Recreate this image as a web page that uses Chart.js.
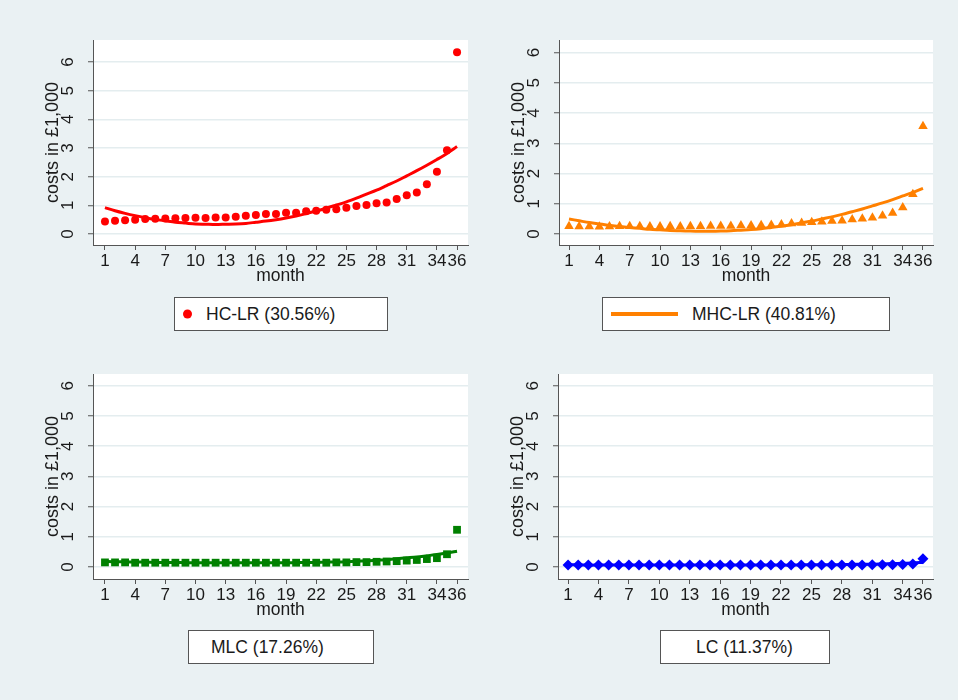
<!DOCTYPE html>
<html>
<head>
<meta charset="utf-8">
<script src="https://cdn.jsdelivr.net/npm/chart.js@4.4.0/dist/chart.umd.min.js"></script>
<style>
html,body{margin:0;padding:0;background:#eaf1f3;width:958px;height:700px;overflow:hidden;font-family:"Liberation Sans",Arial,sans-serif;}
#page{position:relative;width:958px;height:700px;}
canvas{position:absolute;}
.leg{position:absolute;box-sizing:border-box;border:1px solid #555;background:#fff;height:34px;}
.leg .t{position:absolute;top:50%;transform:translateY(-50%);font-size:17.5px;color:#1a1a1a;white-space:nowrap;}
.leg .dot{position:absolute;width:9px;height:9px;border-radius:50%;top:50%;transform:translateY(-50%);}
.leg .ln{position:absolute;height:4px;top:50%;transform:translateY(-50%);}
</style>
</head>
<body>
<div id="page">
  <canvas id="c1"></canvas>
  <canvas id="c2"></canvas>
  <canvas id="c3"></canvas>
  <canvas id="c4"></canvas>
  <div class="leg" id="l1" style="left:174px;top:297px;width:214px;"><span class="dot" style="left:8px;background:#ff0000;"></span><span class="t" style="left:31px;"></span></div>
  <div class="leg" id="l2" style="left:602px;top:297px;width:288px;"><span class="ln" style="left:8px;width:67px;background:#ff8000;"></span><span class="t" style="left:89px;"></span></div>
  <div class="leg" id="l3" style="left:188px;top:630px;width:186px;"><span class="t" style="left:22px;"></span></div>
  <div class="leg" id="l4" style="left:660px;top:630px;width:170px;"><span class="t" style="left:35px;"></span></div>
</div>
<script>
// ---- data ----
const months = [1,2,3,4,5,6,7,8,9,10,11,12,13,14,15,16,17,18,19,20,21,22,23,24,25,26,27,28,29,30,31,32,33,34,35,36];
const xTickValues = [1,4,7,10,13,16,19,22,25,28,31,34,36];
const yTickValues = [0,1,2,3,4,5,6];

const hcObs = [0.44,0.46,0.48,0.50,0.52,0.53,0.54,0.55,0.56,0.57,0.56,0.58,0.58,0.60,0.64,0.66,0.70,0.70,0.74,0.74,0.79,0.81,0.85,0.86,0.92,0.98,1.01,1.07,1.10,1.22,1.35,1.45,1.74,2.17,2.92,6.34];
const hcFit = [0.92,0.81,0.72,0.64,0.57,0.51,0.46,0.41,0.38,0.35,0.34,0.33,0.34,0.35,0.37,0.41,0.45,0.50,0.56,0.63,0.71,0.80,0.90,1.01,1.12,1.25,1.39,1.53,1.69,1.85,2.03,2.21,2.40,2.60,2.81,3.05];

const mhcObs = [0.26,0.25,0.25,0.24,0.25,0.26,0.26,0.26,0.25,0.25,0.26,0.25,0.26,0.26,0.27,0.27,0.27,0.28,0.28,0.29,0.30,0.32,0.35,0.37,0.39,0.41,0.43,0.44,0.48,0.51,0.54,0.61,0.70,0.88,1.32,3.56];
const mhcFit = [0.50,0.44,0.38,0.33,0.29,0.25,0.22,0.19,0.16,0.14,0.12,0.11,0.10,0.095,0.095,0.10,0.11,0.13,0.15,0.18,0.22,0.26,0.31,0.37,0.43,0.50,0.57,0.65,0.74,0.83,0.93,1.03,1.14,1.26,1.38,1.51];

const mlcObs = [0.15,0.15,0.15,0.14,0.14,0.14,0.14,0.14,0.14,0.14,0.14,0.14,0.14,0.14,0.14,0.14,0.14,0.14,0.14,0.14,0.14,0.14,0.14,0.15,0.15,0.16,0.16,0.17,0.18,0.19,0.21,0.23,0.26,0.29,0.42,1.23];
const mlcFit = [0.18,0.17,0.17,0.16,0.16,0.15,0.15,0.15,0.14,0.14,0.14,0.14,0.14,0.14,0.14,0.14,0.14,0.14,0.14,0.14,0.15,0.15,0.16,0.16,0.17,0.19,0.20,0.22,0.24,0.27,0.30,0.33,0.37,0.41,0.46,0.52];

const lcObs = [0.06,0.06,0.06,0.06,0.06,0.06,0.06,0.06,0.06,0.06,0.06,0.06,0.06,0.06,0.06,0.06,0.06,0.06,0.06,0.06,0.06,0.06,0.06,0.06,0.06,0.06,0.06,0.06,0.06,0.06,0.07,0.07,0.07,0.08,0.10,0.27];
const lcFit = [0.07,0.07,0.06,0.06,0.06,0.06,0.06,0.06,0.06,0.06,0.06,0.06,0.06,0.06,0.06,0.06,0.06,0.06,0.06,0.06,0.06,0.06,0.06,0.07,0.07,0.07,0.07,0.08,0.08,0.09,0.09,0.10,0.11,0.12,0.13,0.15];

const legendLabels = ['HC-LR (30.56%)','MHC-LR (40.81%)','MLC (17.26%)','LC (11.37%)'];
const yTitle = 'costs in £1,000';
const xTitle = 'month';

// ---- rendering ----
const FONT = '"Liberation Sans", Arial, sans-serif';
const TXT = '#1a1a1a';
const AX = '#555555';
const GRID = '#e4edef';

const plotBg = {
  id: 'plotBg',
  beforeDraw(chart) {
    const {ctx, chartArea: a} = chart;
    ctx.save();
    ctx.fillStyle = '#ffffff';
    ctx.fillRect(a.left, a.top, a.right - a.left, a.bottom - a.top);
    ctx.restore();
  }
};

function panel(id, area, obs, fit, color, style, radius, yMin, yMax, xMin, xMax) {
  const padTop = 10, padRight = 10, yW = 53, xH = 45;
  const cv = document.getElementById(id);
  const w = (area.R - area.L) + yW + padRight;
  const h = (area.B - area.T) + padTop + xH;
  cv.width = w; cv.height = h;
  cv.style.left = (area.L - yW) + 'px';
  cv.style.top = (area.T - padTop) + 'px';
  cv.style.width = w + 'px'; cv.style.height = h + 'px';
  new Chart(cv, {
    type: 'scatter',
    plugins: [plotBg],
    data: {
      datasets: [
        { data: months.map((m, i) => ({x: m, y: fit[i]})), showLine: true, borderColor: color,
          borderWidth: 3, pointRadius: 0, tension: 0.3, order: 0 },
        { data: months.map((m, i) => ({x: m, y: obs[i]})), pointStyle: style, pointRadius: radius,
          backgroundColor: color, borderColor: color, borderWidth: 0, order: 1 }
      ]
    },
    options: {
      responsive: false, animation: false, devicePixelRatio: 1,
      layout: { padding: { top: padTop, right: padRight, left: 0, bottom: 0 } },
      plugins: { legend: { display: false }, tooltip: { enabled: false } },
      scales: {
        x: {
          type: 'linear', min: xMin, max: xMax,
          afterBuildTicks: s => { s.ticks = xTickValues.map(v => ({ value: v })); },
          afterFit: s => { s.height = xH; s.paddingLeft = 0; s.paddingRight = 0; },
          ticks: { autoSkip: false, maxRotation: 0, minRotation: 0, padding: 1, color: TXT,
                   font: { size: 17, family: FONT } },
          grid: { drawOnChartArea: false, tickLength: 5, tickColor: AX, tickWidth: 1 },
          border: { color: AX, width: 1 },
          title: { display: true, text: xTitle, color: TXT, font: { size: 17.5, family: FONT },
                   padding: { top: 0, bottom: 3 } }
        },
        y: {
          type: 'linear', min: yMin, max: yMax,
          afterBuildTicks: s => { s.ticks = yTickValues.map(v => ({ value: v })); },
          afterFit: s => { s.width = yW; s.paddingTop = 0; s.paddingBottom = 0; },
          ticks: { minRotation: 90, maxRotation: 90, crossAlign: 'center', padding: 15, color: TXT,
                   font: { size: 17, family: FONT } },
          grid: { color: GRID, lineWidth: 1.5, tickLength: 5, tickColor: AX, tickWidth: 1 },
          border: { color: AX, width: 1 },
          title: { display: true, text: yTitle, color: TXT, font: { size: 18, family: FONT },
                   padding: { top: 2, bottom: 0 } }
        }
      }
    }
  });
}

panel('c1', {L: 93, T: 40, R: 468, B: 245}, hcObs, hcFit, '#ff0000', 'circle', 4, -0.384, 6.77, -0.19, 37.09);
panel('c2', {L: 559, T: 40, R: 933, B: 245}, mhcObs, mhcFit, '#ff8000', 'triangle', 5.5, -0.36, 6.41, 0.01, 36.99);
panel('c3', {L: 93, T: 374, R: 468, B: 579}, mlcObs, mlcFit, '#008000', 'rect', 5.5, -0.40, 6.39, -0.19, 37.09);
panel('c4', {L: 558, T: 374, R: 933, B: 579}, lcObs, lcFit, '#0000ff', 'rectRot', 5.5, -0.40, 6.39, 0.01, 36.99);

['l1','l2','l3','l4'].forEach((id, i) => {
  document.querySelector('#' + id + ' .t').textContent = legendLabels[i];
});
</script>
</body>
</html>
